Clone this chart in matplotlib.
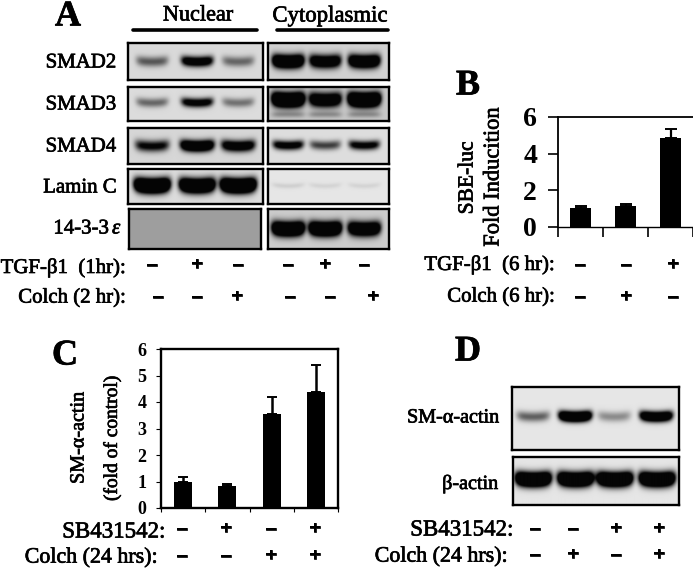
import numpy as np
import matplotlib
matplotlib.use('Agg')
import matplotlib.pyplot as plt
import matplotlib.patheffects as pe

W, H = 693, 570
plt.rcParams['font.family'] = ['Liberation Serif', 'DejaVu Serif']

# bar values
b_values = [1.03, 1.12, 4.88]
b_errors = [0.09, 0.15, 0.44]
c_values = [1.0, 0.82, 3.55, 4.37]
c_errors = [0.17, 0.10, 0.63, 1.03]

# +/- rows
a_tgf = ['–', '+', '–']
a_colch = ['–', '–', '+']
b_tgf = ['–', '–', '+']
b_colch = ['–', '+', '–']
c_sb = ['–', '+', '–', '+']
c_colch = ['–', '–', '+', '+']
d_sb = ['–', '–', '+', '+']
d_colch = ['–', '+', '–', '+']

# band strength per lane (above 1 = saturated black)
smad2_nuc = [0.62, 1.5, 0.55]
smad2_cyt = [2.2, 1.7, 2.0]
smad3_nuc = [0.55, 1.3, 0.5]
smad3_cyt = [2.6, 1.8, 2.6]
smad4_nuc = [1.1, 1.9, 1.5]
smad4_cyt = [1.3, 0.75, 1.2]
lamin_nuc = [2.6, 2.4, 2.6]
lamin_cyt = [0.10, 0.08, 0.08]
ywhae_nuc = [0.0, 0.0, 0.0]
ywhae_cyt = [2.4, 2.4, 2.0]
sma_d = [0.6, 2.2, 0.4, 1.9]
bactin_d = [2.4, 2.4, 2.4, 2.4]

heavy = [pe.withStroke(linewidth=0.5, foreground='k')]


def px_axes(x0, y0, x1, y1):
    # axes given in picture pixels, y going down
    return fig.add_axes([x0 / W, 1 - y1 / H, (x1 - x0) / W, (y1 - y0) / H])


def blot(box, lanes, strengths, bg, half_w=16, half_h=5, cy=0.5, lower=0.0):
    x0, y0, x1, y1 = box
    ax = px_axes(x0, y0, x1, y1)
    xx, yy = np.meshgrid(np.arange(x0, x1, 0.5), np.arange(y0, y1, 0.5))
    mid = y0 + cy * (y1 - y0)
    ink = np.zeros_like(xx)
    for lx, s in zip(lanes, strengths):
        bend = 0.006 * (xx - lx) ** 2
        across = np.exp(-((xx - lx) / half_w) ** 6)
        ink += s * across * np.exp(-((yy - mid + bend) / half_h) ** 2)
        # faint second band under the main one
        ink += lower * across * np.exp(-((yy - y0 - 0.8 * (y1 - y0)) / 3) ** 2)
    img = bg * (1 - np.clip(ink, 0, 1)) + 0.02
    ax.imshow(img, cmap='gray', vmin=0, vmax=1, aspect='auto', interpolation='bilinear')
    ax.set_xticks([])
    ax.set_yticks([])
    for s in ax.spines.values():
        s.set_linewidth(1.7)
    return ax


fig = plt.figure(figsize=(W / 100, H / 100), dpi=100)

# page layer for the text and lines, in pixels
page = fig.add_axes([0, 0, 1, 1], zorder=5)
page.set_xlim(0, W)
page.set_ylim(H, 0)
page.axis('off')


def label(x, y, s, size=15, ha='center', **kw):
    page.text(x, y, s, fontsize=size, ha=ha, va='center', path_effects=heavy, **kw)


def signs(xs, y, row):
    for x, s in zip(xs, row):
        page.text(x, y + 1, s, fontsize=14, fontweight='bold', ha='center', va='center', path_effects=heavy)


# panel letters
label(68, 17, 'A', size=26, fontweight='bold')
label(468, 86, 'B', size=26, fontweight='bold')
label(65, 356, 'C', size=26, fontweight='bold')
label(468, 352, 'D', size=26, fontweight='bold')

# panel A
label(198, 16, 'Nuclear', size=16)
label(330, 16, 'Cytoplasmic', size=16.4)
page.plot([133, 257], [30, 30], color='k', lw=2.6, solid_capstyle='round')
page.plot([277, 388], [30, 30], color='k', lw=2.6, solid_capstyle='round')

nuc_lanes = [152, 197, 238]
cyt_lanes = [288, 325, 364]
nuc_x = (128, 263)
cyt_x = (268, 389)

blot((nuc_x[0], 43, nuc_x[1], 80), nuc_lanes, smad2_nuc, 0.83, half_w=16, half_h=5)
blot((cyt_x[0], 43, cyt_x[1], 80), cyt_lanes, smad2_cyt, 0.80, half_w=16, half_h=6.5)
blot((nuc_x[0], 87, nuc_x[1], 121), nuc_lanes, smad3_nuc, 0.84, half_w=16, half_h=4.5, cy=0.46)
blot((cyt_x[0], 87, cyt_x[1], 121), cyt_lanes, smad3_cyt, 0.76, half_w=16.5, half_h=7, cy=0.38, lower=0.3)
blot((nuc_x[0], 128, nuc_x[1], 164), nuc_lanes, smad4_nuc, 0.82, half_w=17, half_h=5.5, cy=0.5)
blot((cyt_x[0], 128, cyt_x[1], 164), cyt_lanes, smad4_cyt, 0.85, half_w=15.5, half_h=4.5, cy=0.48)
blot((nuc_x[0], 169, nuc_x[1], 204), nuc_lanes, lamin_nuc, 0.84, half_w=18, half_h=7, cy=0.48)
blot((cyt_x[0], 169, cyt_x[1], 204), cyt_lanes, lamin_cyt, 0.88, half_w=16, half_h=2.5, cy=0.48)
blot((129, 209, 261, 249), nuc_lanes, ywhae_nuc, 0.60)
blot((cyt_x[0], 209, cyt_x[1], 249), cyt_lanes, ywhae_cyt, 0.78, half_w=16.5, half_h=7, cy=0.5)

label(81, 63, 'SMAD2')
label(81, 105, 'SMAD3')
label(81, 147, 'SMAD4')
label(80, 188, 'Lamin C')
label(109, 229, '14-3-3', ha='right')
label(112, 229, 'ε', ha='left', fontstyle='italic')
label(126, 268, 'TGF-β1  (1hr):', ha='right')
label(126, 298, 'Colch (2 hr):', ha='right')
signs(nuc_lanes + cyt_lanes, 264, a_tgf + a_tgf)
signs([158, 197, 237, 290, 330, 373], 296, a_colch + a_colch)

# panel B
ax_b = px_axes(558, 117, 693, 227)
ax_b.bar(range(3), b_values, width=0.45, color='k',
         yerr=[[0] * 3, b_errors], ecolor='k', error_kw=dict(elinewidth=1.6, capsize=4, capthick=1.4))
ax_b.set_xlim(-0.5, 2.5)
ax_b.set_ylim(0, 6)
ax_b.set_yticks([0, 2, 4, 6])
ax_b.set_xticks([-0.5, 0.5, 1.5, 2.5])
ax_b.set_xticklabels([])
ax_b.tick_params(axis='y', length=7, width=1.2, labelsize=20, pad=8)
ax_b.tick_params(axis='x', length=7, width=1.2, direction='out')
for t in ax_b.get_yticklabels():
    t.set_fontweight('bold')
ax_b.spines['right'].set_visible(False)
ax_b.spines['left'].set_linewidth(1.3)
ax_b.spines['top'].set_linewidth(1.3)
ax_b.spines['bottom'].set_linewidth(1.0)
label(468, 178, 'SBE-luc', rotation=90, size=15.5)
label(494, 177, 'Fold Inducition', rotation=90, size=16.2)
label(555, 265, 'TGF-β1  (6 hr):', ha='right')
label(555, 297, 'Colch (6 hr):', ha='right')
signs([580, 626, 673], 264, b_tgf)
signs([580, 626, 673], 296, b_colch)

# panel C
ax_c = px_axes(161, 349, 338, 508)
ax_c.bar(range(4), c_values, width=0.41, color='k',
         yerr=[[0] * 4, c_errors], ecolor='k', error_kw=dict(elinewidth=1.8, capsize=3.5, capthick=1.4))
ax_c.set_xlim(-0.5, 3.5)
ax_c.set_ylim(0, 6)
ax_c.set_yticks(range(7))
ax_c.set_xticks([-0.5, 0.5, 1.5, 2.5, 3.5])
ax_c.set_xticklabels([])
ax_c.tick_params(axis='y', length=3.6, width=0.8, labelsize=13, pad=7)
ax_c.tick_params(axis='x', length=3, width=0.8)
for t in ax_c.get_yticklabels():
    t.set_fontweight('bold')
for s in ax_c.spines.values():
    s.set_linewidth(1.7)
label(79, 438, 'SM-α-actin', rotation=90, size=14.5)
label(112, 438, '(fold of control)', rotation=90, size=14)
label(165, 532, 'SB431542:', ha='right', size=16.5)
label(158, 558, 'Colch (24 hrs):', ha='right', size=15.8)
signs([182, 226, 271, 315], 528, c_sb)
signs([182, 226, 271, 315], 555, c_colch)

# panel D
d_lanes = [533, 575, 614, 656]
blot((512, 387, 679, 450), d_lanes, sma_d, 0.88, half_w=16.5, half_h=5, cy=0.47)
blot((513, 457, 679, 505), d_lanes, bactin_d, 0.88, half_w=18, half_h=7, cy=0.47)
label(499, 418, 'SM-α-actin', ha='right', size=14.5)
label(498, 484, 'β-actin', ha='right', size=14.5)
label(513, 530, 'SB431542:', ha='right', size=16.5)
label(508, 557, 'Colch (24 hrs):', ha='right', size=15.8)
signs([535, 573, 616, 659], 528, d_sb)
signs([535, 573, 616, 659], 554, d_colch)

plt.savefig('out.png', dpi=100)
